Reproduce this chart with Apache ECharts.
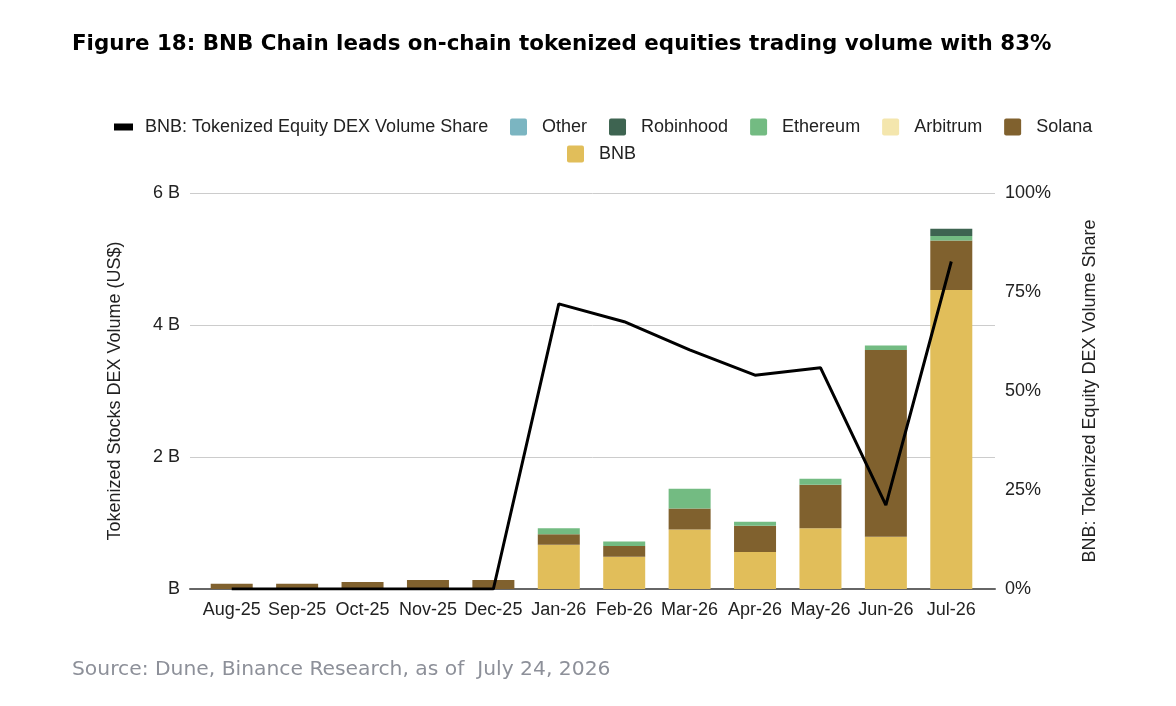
<!DOCTYPE html>
<html>
<head>
<meta charset="utf-8">
<script src="https://cdn.jsdelivr.net/npm/echarts@6/dist/echarts.min.js"></script>
<style>
  html, body { margin: 0; padding: 0; background: #fff; }
  #chart { width: 1176px; height: 706px; }
</style>
</head>
<body>
<div id="chart"></div>
<script>
// months on the x axis
var months = ['Aug-25', 'Sep-25', 'Oct-25', 'Nov-25', 'Dec-25', 'Jan-26', 'Feb-26', 'Mar-26', 'Apr-26', 'May-26', 'Jun-26', 'Jul-26'];

// volumes in billions US$
var bnb       = [0, 0, 0, 0, 0, 0.67, 0.49, 0.90, 0.56, 0.92, 0.79, 4.53];
var solana    = [0.08, 0.08, 0.105, 0.135, 0.135, 0.16, 0.16, 0.32, 0.40, 0.66, 2.83, 0.75];
var arbitrum  = [0, 0, 0, 0, 0, 0, 0, 0, 0, 0, 0, 0];
var ethereum  = [0, 0, 0, 0, 0, 0.09, 0.07, 0.30, 0.06, 0.09, 0.07, 0.07];
var robinhood = [0, 0, 0, 0, 0, 0, 0, 0, 0, 0, 0, 0.11];
var other     = [0, 0, 0, 0, 0, 0, 0, 0, 0, 0, 0, 0];

// BNB share of volume, %
var bnbShare = [0, 0, 0, 0, 0, 72.0, 67.5, 60.4, 54.0, 55.9, 21.2, 82.7];

var leftTicks = { min: 0, max: 6, interval: 2 };
var rightTicks = { min: 0, max: 100, interval: 25 };

var lineName = 'BNB: Tokenized Equity DEX Volume Share';
var txt = '#222';
// square swatch with slightly rounded corners
var sq = 'path://M2,0 L15,0 Q17,0 17,2 L17,15 Q17,17 15,17 L2,17 Q0,17 0,15 L0,2 Q0,0 2,0 Z';

var chart = echarts.init(document.getElementById('chart'));

function barSeries(name, data, color) {
	return {
		name: name,
		type: 'bar',
		stack: 'vol',
		data: data,
		barWidth: 42,
		itemStyle: { color: color },
		emphasis: { disabled: true }
	};
}

var legendBase = {
	itemWidth: 17,
	itemHeight: 17,
	itemGap: 22,
	padding: 0,
	textStyle: { fontSize: 18, color: txt, padding: [0, 0, 0, 10] }
};

var option = {
	animation: false,
	backgroundColor: '#fff',
	textStyle: { fontFamily: 'Liberation Sans, Arial, sans-serif' },
	title: [{
		text: 'Figure 18: BNB Chain leads on-chain tokenized equities trading volume with 83%',
		left: 72,
		top: 34,
		padding: 0,
		textStyle: { fontFamily: 'DejaVu Sans', fontWeight: 'bold', fontSize: 21.4, color: '#000' }
	}, {
		text: 'Source: Dune, Binance Research, as of  July 24, 2026',
		left: 72,
		top: 660,
		padding: 0,
		textStyle: { fontFamily: 'DejaVu Sans', fontWeight: 'normal', fontSize: 20.3, color: '#8d9099' }
	}],
	// three legends so the rows and spacing sit like the original
	legend: [
		Object.assign({}, legendBase, {
			left: 114, top: 118,
			itemWidth: 19,
			itemHeight: 7,
			textStyle: { fontSize: 18, color: txt, padding: [0, 0, 0, 7] },
			data: [{ name: lineName, icon: 'rect', itemStyle: { color: '#000' } }]
		}),
		Object.assign({}, legendBase, {
			left: 510, top: 118,
			data: [
				{ name: 'Other', icon: sq },
				{ name: 'Robinhood', icon: sq },
				{ name: 'Ethereum', icon: sq },
				{ name: 'Arbitrum', icon: sq },
				{ name: 'Solana', icon: sq }
			]
		}),
		Object.assign({}, legendBase, {
			left: 567, top: 145,
			data: [{ name: 'BNB', icon: sq }]
		})
	],
	grid: [
		{ left: 199, right: 192, top: 193, bottom: 117 },
		// wider grid behind, only for gridlines and the base line
		{ left: 190, right: 181, top: 193, bottom: 117 }
	],
	xAxis: [{
		type: 'category',
		gridIndex: 0,
		data: months,
		axisTick: { show: false },
		axisLine: { show: false },
		axisLabel: { fontSize: 18, color: txt, margin: 12, interval: 0 }
	}, {
		type: 'value',
		gridIndex: 1,
		min: 0,
		max: 1,
		axisLabel: { show: false },
		axisTick: { show: false },
		splitLine: { show: false },
		axisLine: { show: true, lineStyle: { color: '#666', width: 2 } }
	}],
	yAxis: [{
		type: 'value',
		gridIndex: 0,
		min: leftTicks.min,
		max: leftTicks.max,
		interval: leftTicks.interval,
		name: 'Tokenized Stocks DEX Volume (US$)',
		nameLocation: 'middle',
		nameGap: 75,
		nameTextStyle: { fontSize: 18, color: txt },
		axisLabel: {
			fontSize: 18, color: txt, margin: 19,
			formatter: function (v) { return v === 0 ? 'B' : v + ' B'; }
		},
		axisLine: { show: false },
		axisTick: { show: false },
		splitLine: { show: false }
	}, {
		type: 'value',
		gridIndex: 0,
		min: rightTicks.min,
		max: rightTicks.max,
		interval: rightTicks.interval,
		position: 'right',
		name: lineName,
		nameLocation: 'middle',
		nameRotate: 90,
		nameGap: 97,
		nameTextStyle: { fontSize: 18, color: txt },
		axisLabel: { fontSize: 18, color: txt, margin: 21, formatter: '{value}%' },
		axisLine: { show: false },
		axisTick: { show: false },
		splitLine: { show: false }
	}, {
		type: 'value',
		gridIndex: 1,
		min: leftTicks.min,
		max: leftTicks.max,
		interval: leftTicks.interval,
		axisLabel: { show: false },
		axisLine: { show: false },
		axisTick: { show: false },
		splitLine: { lineStyle: { color: '#cccccc', width: 1 } }
	}],
	series: [
		barSeries('BNB', bnb, '#e1be5a'),
		barSeries('Solana', solana, '#80612e'),
		barSeries('Arbitrum', arbitrum, '#f4e6ad'),
		barSeries('Ethereum', ethereum, '#73bb82'),
		barSeries('Robinhood', robinhood, '#3e6451'),
		barSeries('Other', other, '#7bb5c1'),
		{
			name: lineName,
			type: 'line',
			yAxisIndex: 1,
			data: bnbShare,
			showSymbol: false,
			symbol: 'none',
			lineStyle: { color: '#000', width: 3 },
			itemStyle: { color: '#000' },
			z: 10
		}
	]
};

chart.setOption(option);
</script>
</body>
</html>
